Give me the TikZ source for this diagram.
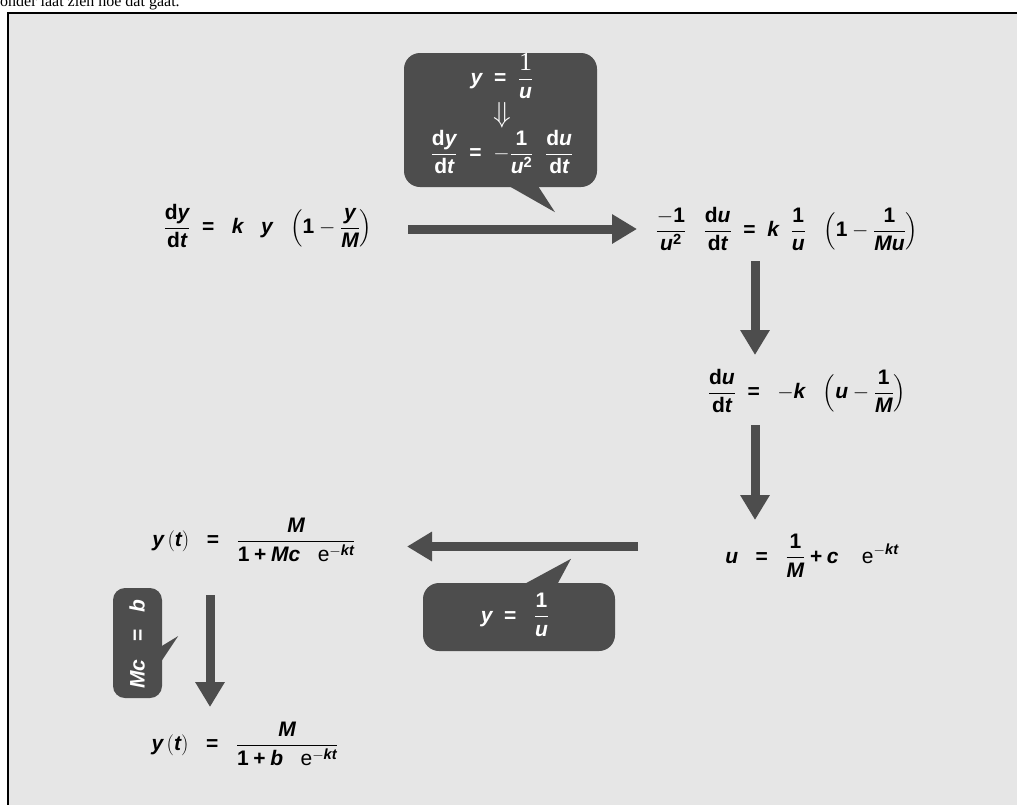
\RequirePackage{fix-cm}
\documentclass[tikz,border=0pt]{standalone}
\usepackage{amsmath}
\usepackage{fontspec}
\setmainfont{Liberation Sans}
\newfontfamily\serifont{Liberation Serif}
\usetikzlibrary{arrows.meta,calc}
\definecolor{bg}{HTML}{E6E6E6}
\definecolor{dark}{HTML}{4D4D4D}
\newcommand\vv[1]{\text{\bfseries\itshape #1}}
\newcommand\rr[1]{\text{\bfseries #1}}
\newcommand\EQ{\mathrel{\text{\bfseries =}}}
\newcommand\PL{\mathbin{\text{\bfseries +}}}
\newcommand\fr[2]{{#1\above1pt #2}}
\newcommand\ee{\text{e}}
\begin{document}
\begin{tikzpicture}[x=1pt,y=-1pt,
  eq/.style={inner sep=0pt, font=\fontsize{21}{25}\selectfont},
  btext/.style={eq, text=white},
  bubble/.style={fill=dark, rounded corners=16pt, inner sep=0pt},
  tail/.style={fill=dark},
  bigarrow/.style={draw=dark, line width=9pt, -{Triangle[length=25pt,width=28pt]}}]
\useasboundingbox (0,0) rectangle (1017,804);
\begin{scope}
\clip (0,0) rectangle (1017,804);
\node[anchor=base west, inner sep=0pt, font=\serifont\fontsize{16}{18}\selectfont] (intro) at (0,6) {onder laat zien hoe dat gaat.};
\filldraw[fill=bg, draw=black, line width=2.5pt] (8,13) rectangle (1040,830);
\end{scope}

% equations
\node[eq] (eq1) at (268,226) {$\displaystyle \fr{\rr{d}\vv{y}}{\rr{d}\vv{t}}\;\EQ\;\;\vv{k}\;\;\;\vv{y}\;\;\;\Bigl(\rr{1}-\fr{\vv{y}}{\vv{M}}\Bigr)$};
\node[eq] (eq2) at (787,229) {$\displaystyle \fr{-\rr{1}}{\vv{u}^{\rr{2}}}\;\;\;\fr{\rr{d}\vv{u}}{\rr{d}\vv{t}}\;\EQ\;\vv{k}\;\;\fr{\rr{1}}{\vv{u}}\;\;\;\Bigl(\rr{1}-\fr{\rr{1}}{\vv{Mu}}\Bigr)$};
\node[eq] (eq3) at (807,391) {$\displaystyle \fr{\rr{d}\vv{u}}{\rr{d}\vv{t}}\;\EQ\;\;-\vv{k}\;\;\;\Bigl(\vv{u}-\fr{\rr{1}}{\vv{M}}\Bigr)$};
\node[eq] (eq4) at (812,556) {$\displaystyle \vv{u}\;\;\EQ\;\;\fr{\rr{1}}{\vv{M}}\PL\vv{c}\;\;\;\;\ee^{-\vv{kt}}$};
\node[eq] (eq5) at (254,540) {$\displaystyle \vv{y}\,(\vv{t})\;\;\EQ\;\;\fr{\vv{M}}{\rr{1}\PL\vv{Mc}\;\;\;\ee^{-\vv{kt}}}$};
\node[eq] (eq6) at (245,744) {$\displaystyle \vv{y}\,(\vv{t})\;\;\EQ\;\;\fr{\vv{M}}{\rr{1}\PL\vv{b}\;\;\;\ee^{-\vv{kt}}}$};

% bubble 1
\node[bubble, minimum width=193pt, minimum height=134pt] (b1) at (500.5,120) {};
\fill[tail] ($(b1.south)+(7,-2)$) -- ($(b1.south)+(54.5,25)$) -- ($(b1.south)+(37,-2)$) -- cycle;
\node[btext] (b1top) at (502,76) {$\displaystyle \vv{y}\;\EQ\;\fr{\text{\serifont\fontsize{26}{26}\selectfont 1}}{\vv{u}}$};
\node[btext, font=\fontsize{29}{29}\selectfont] (b1arr) at (502,115) {$\Downarrow$};
\node[btext] (b1bot) at (502,152) {$\displaystyle \fr{\rr{d}\vv{y}}{\rr{d}\vv{t}}\;\EQ\;-\fr{\rr{1}}{\vv{u}^{\rr{2}}}\;\;\fr{\rr{d}\vv{u}}{\rr{d}\vv{t}}$};

% bubble 2
\node[bubble, minimum width=192pt, minimum height=68pt] (b2) at (519,617) {};
\fill[tail] ($(b2.north)+(4,2)$) -- ($(b2.north)+(52,-24)$) -- ($(b2.north)+(38,2)$) -- cycle;
\node[btext] (b2t) at (515,615) {$\displaystyle \vv{y}\;\EQ\;\;\fr{\rr{1}}{\vv{u}}$};

% bubble 3
\node[bubble, rounded corners=12pt, minimum width=49pt, minimum height=110pt] (b3) at (137.5,643) {};
\fill[tail] ($(b3.east)+(-2,4)$) -- ($(b3.east)+(16,-7)$) -- ($(b3.east)+(-2,20)$) -- cycle;
\node[btext, rotate=90] (b3t) at (137,644) {$\vv{Mc}\;\;\EQ\;\;\vv{b}$};

% arrows
\coordinate (a1s) at ($(eq1)+(140,3)$);
\coordinate (a1e) at ($(eq2)+(-150,0)$);
\draw[bigarrow] (a1s) -- (a1e |- a1s);
\coordinate (a2s) at ($(eq2)+(-32,32)$);
\coordinate (a2e) at ($(eq3)+(-52,-36)$);
\draw[bigarrow] (a2s) -- (a2s |- a2e);
\coordinate (a3s) at ($(eq3)+(-52,34)$);
\coordinate (a3e) at ($(eq4)+(-57,-36)$);
\draw[bigarrow] (a3s) -- (a3s |- a3e);
\coordinate (a4s) at ($(eq4)+(-174,-9.5)$);
\coordinate (a4e) at ($(eq5)+(153,6.5)$);
\draw[bigarrow] (a4s) -- (a4e |- a4s);
\coordinate (a5s) at ($(eq5)+(-44,55)$);
\coordinate (a5e) at ($(eq6)+(-35,-37)$);
\draw[bigarrow] (a5s) -- (a5s |- a5e);
\end{tikzpicture}
\end{document}
